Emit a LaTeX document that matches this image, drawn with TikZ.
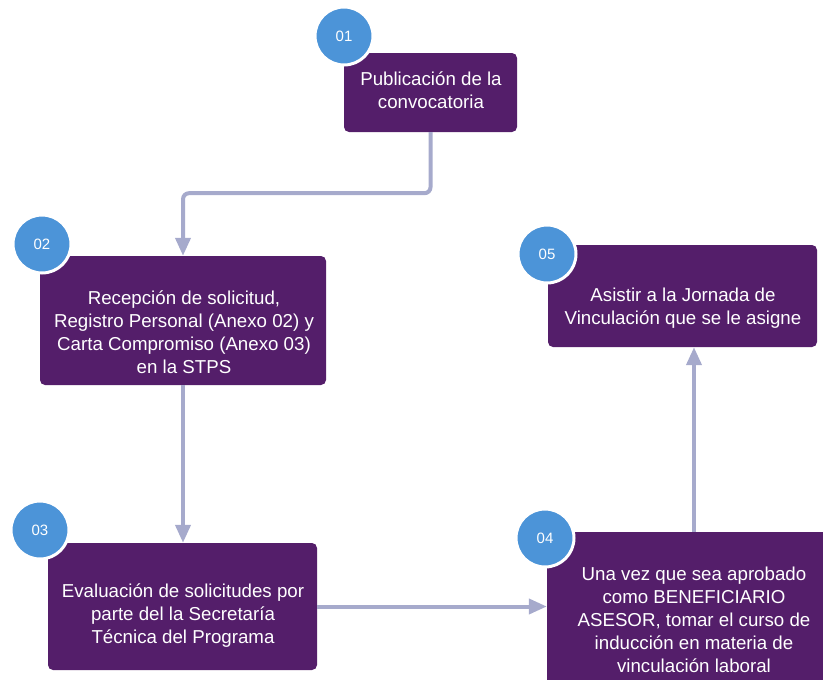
\documentclass[tikz,border=0pt]{standalone}
\usepackage{fontspec}
\setmainfont{Liberation Sans}
\usetikzlibrary{arrows.meta}
\definecolor{boxpurple}{RGB}{84,30,106}
\definecolor{numblue}{RGB}{76,148,216}
\definecolor{arrowgrey}{RGB}{166,170,204}
\tikzset{
  stepbox/.style={draw=none, fill=boxpurple, rounded corners=5pt, inner sep=0pt},
  steptext/.style={text=white, align=center, inner sep=0pt, font=\fontsize{18.7}{23}\selectfont},
  numcircle/.style={circle, fill=numblue, draw=white, line width=3pt, minimum size=58pt, inner sep=0pt, text=white, font=\fontsize{15}{17}\selectfont},
  flow/.style={draw=arrowgrey, line width=4pt, rounded corners=6pt, -{Triangle[length=18pt,width=15pt]}}
}
\begin{document}
\begin{tikzpicture}[x=1pt,y=-1pt]
\useasboundingbox (0,0) rectangle (823,680);
\clip (0,0) rectangle (823,680);
% boxes
\node[stepbox, minimum width=173pt, minimum height=79pt] (b1) at (430.5,92.5) {};
\node[stepbox, minimum width=286pt, minimum height=129pt] (b2) at (183,320.5) {};
\node[stepbox, minimum width=269pt, minimum height=127pt] (b3) at (182.5,606.5) {};
\node[stepbox, minimum width=294pt, minimum height=180pt] (b4) at (694,622) {};
\node[stepbox, minimum width=269pt, minimum height=102pt] (b5) at (682.5,296) {};
% texts
\node[steptext] (t1) at (431,90) {Publicación de la\\convocatoria};
\node[steptext] (t2) at (184,332) {Recepción de solicitud,\\Registro Personal (Anexo 02) y\\Carta Compromiso (Anexo 03)\\en la STPS};
\node[steptext] (t3) at (183,616) {Evaluación de solicitudes por\\parte del la Secretaría\\Técnica del Programa};
\node[steptext] (t4) at (694,620) {Una vez que sea aprobado\\como BENEFICIARIO\\ASESOR, tomar el curso de\\inducción en materia de\\vinculación laboral};
\node[steptext] (t5) at (683,308) {Asistir a la Jornada de\\Vinculación que se le asigne};
% connectors
\draw[flow] (b1.south) -- ++(0,61) -| (b2.north);
\draw[flow] (b2.south) -- (b2.south |- b3.north);
\draw[flow] (b3.east) -- (b3.east -| b4.west);
\draw[flow] (b4.north) -- (b4.north |- b5.south);
% number circles
\node[numcircle] (n1) at (344,36) {01};
\node[numcircle] (n2) at (42,244) {02};
\node[numcircle] (n3) at (40,530) {03};
\node[numcircle] (n4) at (545,538) {04};
\node[numcircle] (n5) at (547,254) {05};
\end{tikzpicture}
\end{document}
